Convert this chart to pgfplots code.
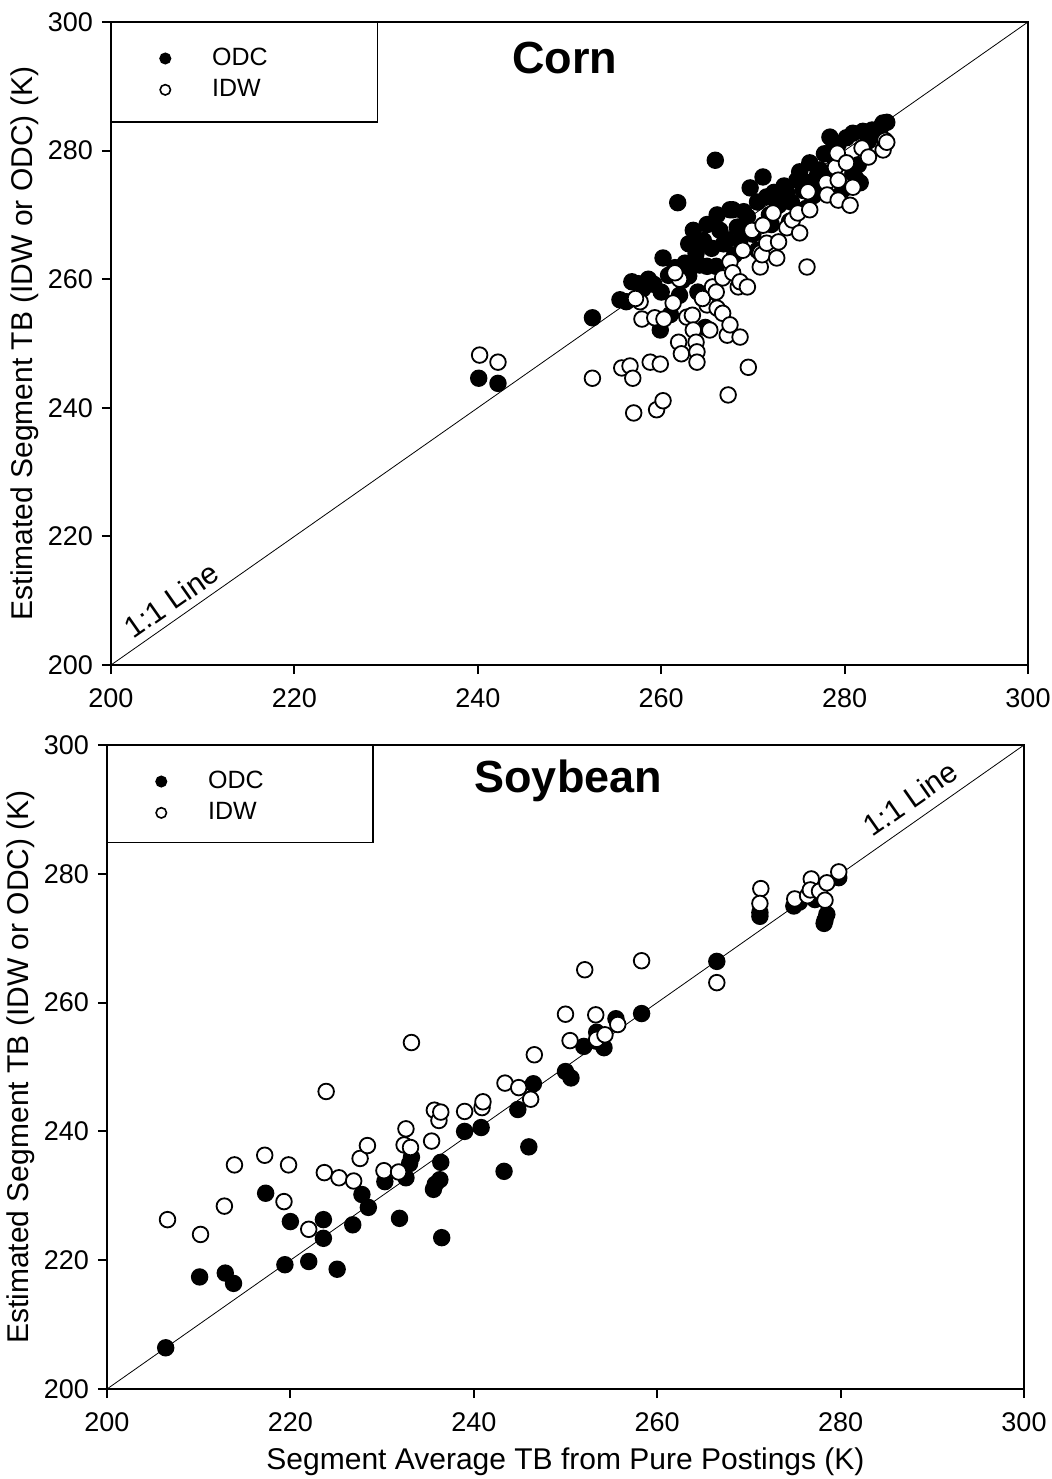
\documentclass[border=0pt]{standalone}
\usepackage{fontspec}
\setmainfont{Liberation Sans}
\usepackage{pgfplots}
\pgfplotsset{compat=1.18}

\pgfplotsset{
  tbax/.style={
    scale only axis,
    width=458.5pt,
    xmin=200, xmax=300, ymin=200, ymax=300,
    xtick={200,220,...,300}, ytick={200,220,...,300},
    xtick pos=bottom, ytick pos=left,
    tick align=outside,
    major tick length=4.5pt,
    axis line style={line width=1.1pt},
    every tick/.style={black, line width=1pt},
    tick label style={font=\fontsize{13.5}{15}\selectfont},
    /pgf/number format/assume math mode=true,
    /pgf/number format/1000 sep={},
    xticklabel style={yshift=-4pt},
    yticklabel style={xshift=-1pt},
    ylabel={Estimated Segment TB (IDW or ODC) (K)},
    ylabel style={at={(axis description cs:-0.094,0.5)}, anchor=center,
                  font=\fontsize{15}{18}\selectfont},
    legend style={draw=none, fill=none, at={(axis cs:200,296.6)}, anchor=north west,
                  inner sep=0pt, font=\fontsize{12.5}{15}\selectfont, row sep=1.5pt,
                  legend cell align=left},
    legend image code/.code={\path (0pt,0pt) (47.5pt,0pt);
        \draw[##1, mark size=2.6pt, line width=0.8pt] plot coordinates {(26.5pt,0pt)};},
  },
  odc/.style={only marks, mark=*, mark size=3.9pt, draw=black, fill=black, line width=0.9pt},
  idw/.style={only marks, mark=*, mark size=3.9pt, draw=black, fill=white, line width=0.9pt,
              mark options={fill=white}},
}

\begin{document}
\begin{tikzpicture}
\path[use as bounding box] (-55.5pt,-407pt) rectangle (470.5pt,332.5pt);

% ---------- Corn ----------
\begin{axis}[tbax, height=321.5pt, at={(0pt,0pt)}, anchor=south west]
\addplot[black, line width=0.4pt, forget plot] coordinates {(200,200) (300,300)};
\addplot[odc] coordinates {
(240.1,244.6) (242.2,243.8) (252.5,254.0) (255.5,256.8) (256.2,256.5) (256.8,259.6)
(257.5,259.3) (258.0,258.5) (258.6,260.0) (259.2,259.2) (259.9,252.1) (260.2,263.3)
(260.8,260.6) (261.5,261.8) (261.8,271.9) (262.3,259.8) (262.6,262.5) (263.0,265.5)
(263.5,267.6) (263.8,264.0) (264.2,262.2) (264.6,266.0) (265.0,268.5) (265.5,264.8)
(265.9,278.5) (266.1,270.0) (266.4,267.6) (266.8,265.5) (267.2,266.1) (267.5,270.8)
(267.8,270.8) (268.0,263.8) (268.3,268.1) (268.6,266.1) (269.0,270.5) (269.4,269.7)
(269.7,274.2) (270.0,267.0) (270.5,272.0) (271.1,275.9) (271.5,272.8) (271.8,270.0)
(272.3,273.5) (272.8,271.5) (273.0,271.8) (273.4,274.5) (273.7,273.4) (274.2,272.0)
(274.8,275.4) (275.1,276.7) (275.5,273.8) (276.0,275.0) (276.2,278.1) (276.6,273.0)
(277.0,276.0) (277.3,277.0) (277.8,279.5) (278.4,282.1) (278.8,280.5) (279.3,281.0)
(279.8,273.9) (280.2,282.0) (280.9,282.7) (280.9,276.5) (281.3,275.5) (281.7,275.0)
(282.0,283.0) (282.6,281.5) (283.0,283.2) (283.5,282.7) (284.0,283.8) (284.2,284.3)
(284.6,284.4) (281.5,277.8) (279.0,278.5) (265.0,262.0) (264.0,258.0) (263.0,260.5)
(262.0,257.5) (260.0,258.0) (266.0,262.0) (270.5,264.5) (272.0,268.5) (274.0,269.0)
(275.8,271.0) (277.5,274.5) (278.5,276.0) (264.8,252.5) (261.0,254.5)
};
\addlegendentry{ODC}
\addplot[idw] coordinates {
(240.2,248.2) (242.2,247.1) (252.5,244.6) (255.7,246.2) (256.6,246.5) (256.9,244.6)
(257.0,239.2) (257.7,256.5) (257.9,253.8) (258.8,247.1) (259.3,254.0) (259.5,239.7)
(259.9,246.8) (260.2,241.1) (260.3,253.8) (261.3,256.3) (261.9,250.2) (262.2,248.4)
(262.8,254.1) (263.4,254.4) (263.5,252.1) (263.8,250.2) (263.9,248.7) (263.9,247.1)
(265.0,256.0) (265.3,252.1) (265.6,258.8) (266.1,255.5) (266.7,254.7) (266.7,260.2)
(267.2,251.3) (267.3,242.0) (267.5,252.9) (267.5,262.7) (267.8,261.0) (268.4,258.8)
(268.6,251.0) (268.6,259.6) (268.9,264.5) (269.4,258.8) (269.5,246.3) (269.9,267.6)
(270.8,261.9) (270.8,264.1) (271.0,263.8) (271.1,268.4) (271.5,265.6) (272.2,270.3)
(272.6,263.3) (272.8,265.8) (273.7,268.0) (274.3,269.2) (274.9,270.3) (275.1,267.2)
(275.9,261.9) (276.0,273.6) (276.2,270.8) (278.0,275.0) (278.1,273.1) (279.0,277.4)
(279.2,279.6) (279.3,275.4) (279.3,272.3) (280.2,278.1) (280.6,271.5) (280.9,274.3)
(281.9,280.4) (282.6,279.0) (284.2,280.1) (284.4,281.6) (284.6,281.3) (262.0,260.0)
(261.5,261.0) (257.2,257.0) (264.5,257.0) (266.0,258.0)
};
\addlegendentry{IDW}
\draw[line width=0.6pt] (axis cs:200,300) rectangle (axis cs:229.1,284.45);
\node[font=\bfseries\fontsize{22.5}{26}\selectfont] at (axis cs:249.5,294.4) {Corn};
\node[rotate=35, font=\fontsize{15}{18}\selectfont, anchor=center] at (axis cs:206.6,210.1) {1:1 Line};
\end{axis}

% ---------- Soybean ----------
\begin{axis}[tbax, height=322pt, at={(-2pt,-362pt)}, anchor=south west,
  xlabel={Segment Average TB from Pure Postings (K)},
  xlabel style={at={(axis description cs:0.5,-0.113)}, anchor=center,
                font=\fontsize{15}{18}\selectfont}]
\addplot[black, line width=0.4pt, forget plot] coordinates {(200,200) (300,300)};
\addplot[odc] coordinates {
(206.4,206.4) (210.1,217.4) (212.9,218.0) (213.8,216.4) (217.3,230.4) (219.4,219.3)
(220.0,226.0) (222.0,219.8) (223.6,226.3) (223.6,223.4) (225.1,218.6) (226.8,225.5)
(227.8,230.2) (228.5,228.2) (230.3,232.2) (231.9,226.5) (232.6,232.8) (233.0,235.0)
(233.2,236.0) (235.6,231.0) (235.8,231.8) (236.3,232.5) (236.4,235.2) (236.5,223.5)
(239.0,240.0) (240.8,240.6) (243.3,233.8) (244.8,243.4) (246.0,237.6) (246.5,247.4)
(250.0,249.3) (250.6,248.3) (252.0,253.2) (253.4,254.0) (253.4,255.4) (254.2,253.0)
(255.5,257.5) (258.3,258.3) (266.5,266.4) (271.2,273.4) (271.2,274.0) (274.9,275.0)
(275.5,275.6) (276.7,276.6) (277.2,276.0) (278.2,272.3) (278.3,272.8) (278.5,273.7)
(279.8,279.4)
};
\addlegendentry{ODC}
\addplot[idw] coordinates {
(206.6,226.3) (210.2,224.0) (212.8,228.4) (213.9,234.8) (217.2,236.3) (219.3,229.1)
(219.8,234.8) (222.0,224.8) (223.7,233.6) (223.9,246.2) (225.3,232.8) (226.9,232.3)
(227.6,235.8) (228.4,237.8) (230.2,233.9) (231.8,233.7) (232.4,237.9) (232.6,240.4)
(233.1,237.5) (233.2,253.8) (235.4,238.5) (235.7,243.3) (236.2,241.7) (236.4,243.0)
(239.0,243.1) (240.9,243.7) (241.0,244.6) (243.4,247.5) (244.9,246.8) (246.2,245.0)
(246.6,251.9) (250.0,258.2) (250.5,254.1) (252.1,265.1) (253.3,258.1) (253.4,254.3)
(254.3,255.0) (255.7,256.6) (258.3,266.5) (266.5,263.1) (271.3,277.7) (271.2,275.4)
(275.0,276.1) (276.4,276.6) (276.8,279.2) (276.7,277.5) (277.7,277.3) (278.3,275.9)
(278.5,278.6) (279.8,280.3)
};
\addlegendentry{IDW}
\draw[line width=0.6pt] (axis cs:200,300) rectangle (axis cs:229.0,284.8);
\node[font=\bfseries\fontsize{22.5}{26}\selectfont] at (axis cs:250.3,294.4) {Soybean};
\node[rotate=35, font=\fontsize{15}{18}\selectfont, anchor=center] at (axis cs:287.6,291.7) {1:1 Line};
\end{axis}
\end{tikzpicture}
\end{document}
